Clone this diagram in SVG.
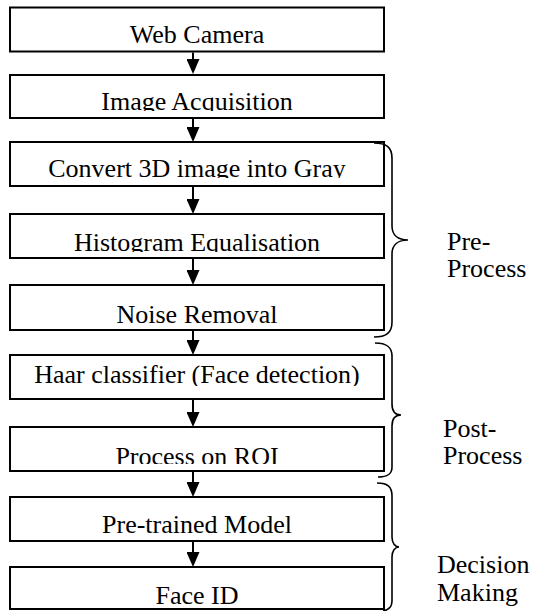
<svg xmlns="http://www.w3.org/2000/svg" width="533" height="611" viewBox="0 0 533 611">
  <style>
    .box { fill: #ffffff; stroke: #000000; stroke-width: 2; }
    .lbl { font-family: "Liberation Serif", "Times New Roman", serif; font-size: 26px; fill: #000000; }
    .mid { text-anchor: middle; }
    .flow { fill: none; stroke: #000000; stroke-width: 2; marker-end: url(#head); }
    .brace { fill: none; stroke: #000000; stroke-width: 1.6; }
  </style>
  <defs>
    <marker id="head" viewBox="0 0 15 13" refX="5" refY="6.5" markerWidth="15" markerHeight="13" markerUnits="userSpaceOnUse" orient="auto">
      <path d="M0,0 L15,6.5 L0,13 z" fill="#000000"/>
    </marker>
    <!-- text areas of the boxes; labels are cut off at the lower edge -->
    <clipPath id="c1"><rect x="11" y="8.5" width="372" height="42"/></clipPath>
    <clipPath id="c2"><rect x="11" y="76" width="372" height="35"/></clipPath>
    <clipPath id="c3"><rect x="11" y="143" width="372" height="35"/></clipPath>
    <clipPath id="c4"><rect x="11" y="215" width="372" height="37"/></clipPath>
    <clipPath id="c5"><rect x="11" y="286" width="372" height="43"/></clipPath>
    <clipPath id="c6"><rect x="11" y="356" width="372" height="30"/></clipPath>
    <clipPath id="c7"><rect x="11" y="428" width="372" height="36"/></clipPath>
    <clipPath id="c8"><rect x="11" y="498" width="372" height="42"/></clipPath>
    <clipPath id="c9"><rect x="11" y="568" width="372" height="41"/></clipPath>
  </defs>

  <!-- connectors -->
  <g id="connectors">
    <path class="flow" d="M193,52.5 V64"/>
    <path class="flow" d="M193,119 V132"/>
    <path class="flow" d="M193,187 V204"/>
    <path class="flow" d="M193,259 V275"/>
    <path class="flow" d="M193,331 V345"/>
    <path class="flow" d="M193,400 V417"/>
    <path class="flow" d="M193,472 V487"/>
    <path class="flow" d="M193,542 V557"/>
  </g>

  <!-- process steps -->
  <g id="web-camera">
    <rect class="box" x="10" y="7.5" width="374" height="44"/>
    <text class="lbl mid" x="197" y="43" clip-path="url(#c1)">Web Camera</text>
  </g>
  <g id="image-acquisition">
    <rect class="box" x="10" y="75" width="374" height="43"/>
    <text class="lbl mid" x="197" y="110" clip-path="url(#c2)">Image Acquisition</text>
  </g>
  <g id="convert-gray">
    <rect class="box" x="10" y="142" width="374" height="44"/>
    <text class="lbl mid" x="197" y="177" clip-path="url(#c3)">Convert 3D image into Gray</text>
  </g>
  <g id="histogram-equalisation">
    <rect class="box" x="10" y="214" width="374" height="44"/>
    <text class="lbl mid" x="197" y="251" clip-path="url(#c4)">Histogram Equalisation</text>
  </g>
  <g id="noise-removal">
    <rect class="box" x="10" y="285" width="374" height="45"/>
    <text class="lbl mid" x="197" y="323" clip-path="url(#c5)">Noise Removal</text>
  </g>
  <g id="haar-classifier">
    <rect class="box" x="10" y="355" width="374" height="44"/>
    <text class="lbl mid" x="197" y="383" clip-path="url(#c6)">Haar classifier (Face detection)</text>
  </g>
  <g id="process-roi">
    <rect class="box" x="10" y="427" width="374" height="44"/>
    <text class="lbl mid" x="197" y="465" clip-path="url(#c7)">Process on ROI</text>
  </g>
  <g id="pretrained-model">
    <rect class="box" x="10" y="497" width="374" height="44"/>
    <text class="lbl mid" x="197" y="533" clip-path="url(#c8)">Pre-trained Model</text>
  </g>
  <g id="face-id">
    <rect class="box" x="10" y="567" width="374" height="42"/>
    <text class="lbl mid" x="197" y="604" clip-path="url(#c9)">Face ID</text>
  </g>

  <!-- stage brackets -->
  <g id="stage-pre">
    <path class="brace" d="M374,143 C386,143 392,147 392,158 L392,226 C392,235 398,240 408,240 C398,240 392,245 392,254 L392,322 C392,333 386,337 374,337"/>
    <text class="lbl" x="447" y="250">Pre-</text>
    <text class="lbl" x="447" y="277">Process</text>
  </g>
  <g id="stage-post">
    <path class="brace" d="M375,343 C387,343 392,347 392,356 L392,404 C392,411 395,415 401,415 C395,415 392,419 392,426 L392,467 C392,474 388,477 378,477"/>
    <text class="lbl" x="443" y="437">Post-</text>
    <text class="lbl" x="443" y="464">Process</text>
  </g>
  <g id="stage-decision">
    <path class="brace" d="M377,483 C388,483 392,487 392,496 L392,537 C392,543 395,547 399,547 C395,547 392,551 392,557 L392,601 C392,607 389,610 383,611"/>
    <text class="lbl" x="437" y="573">Decision</text>
    <text class="lbl" x="437" y="601">Making</text>
  </g>
</svg>
